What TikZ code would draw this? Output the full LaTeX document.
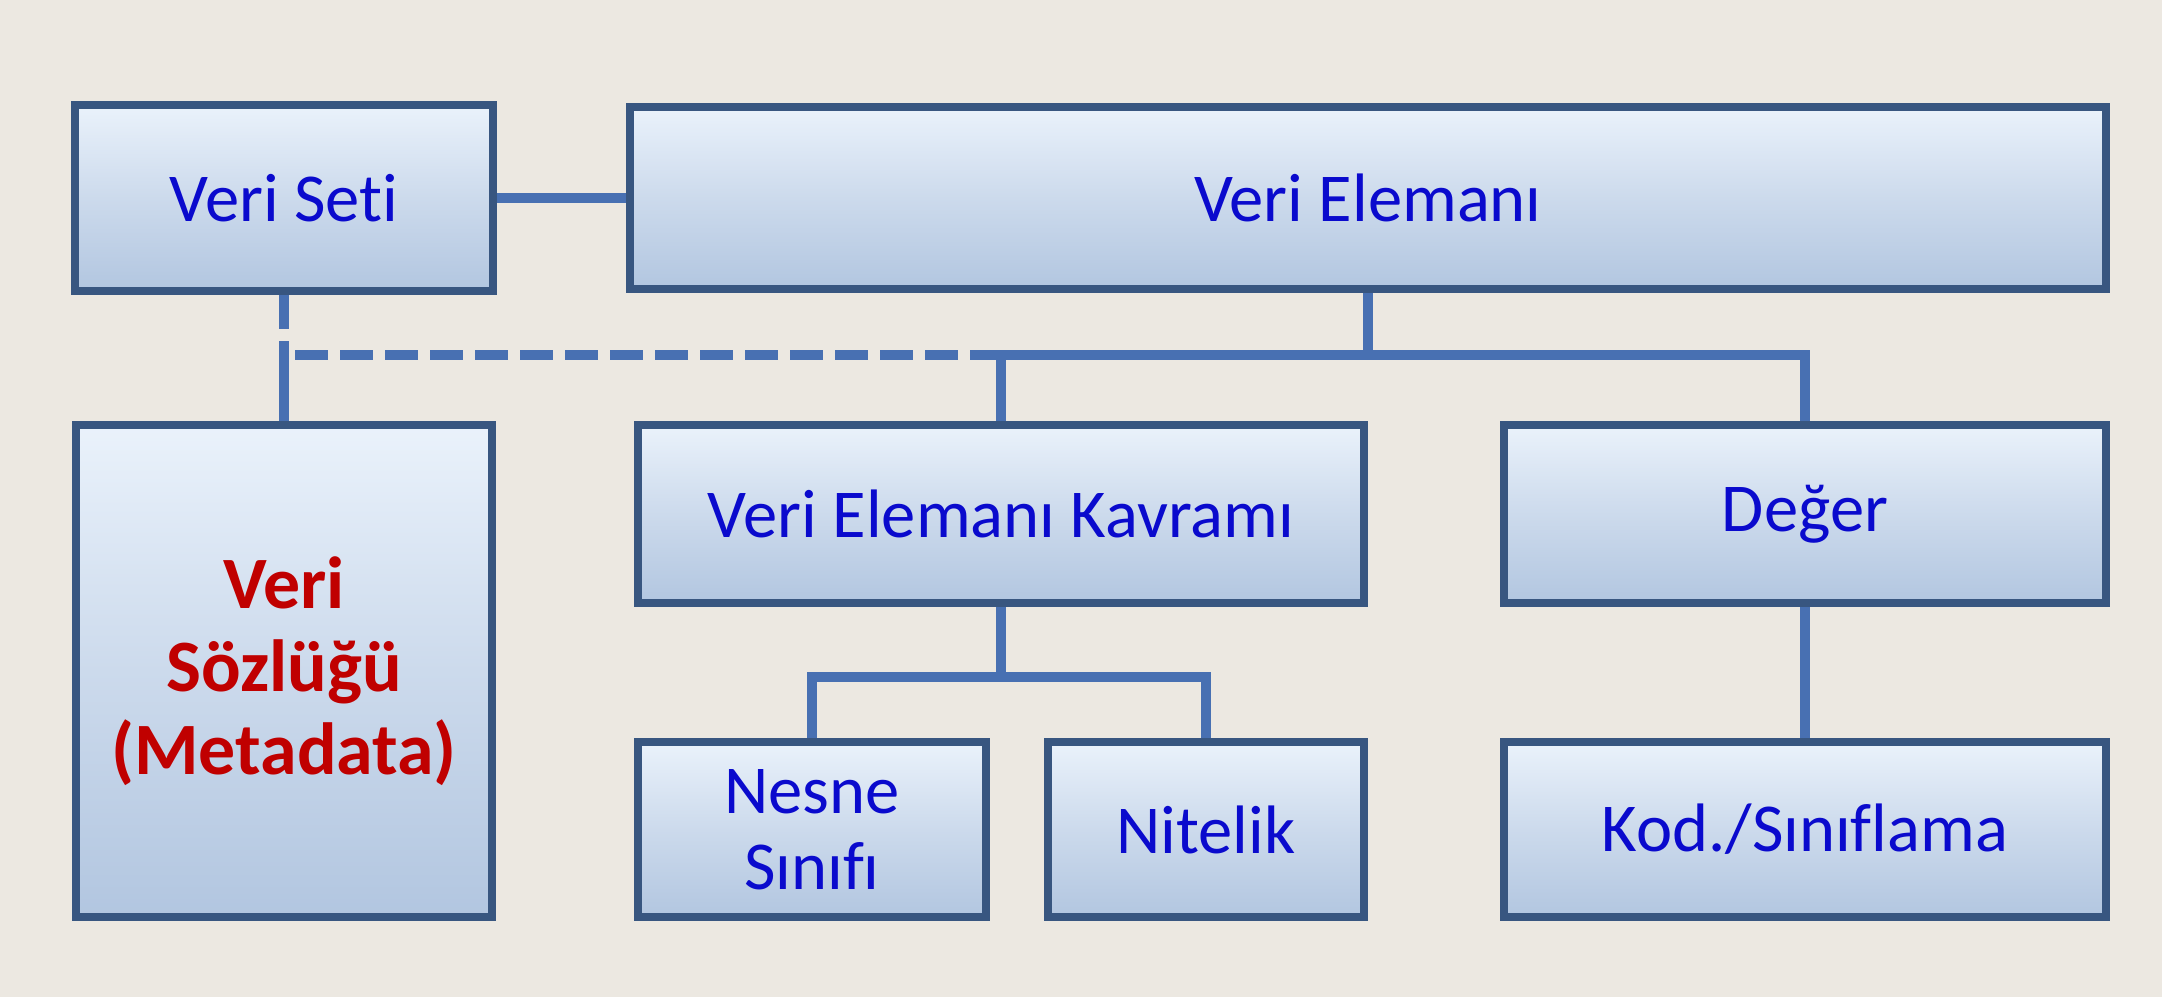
\documentclass[tikz,border=0pt]{standalone}
\usepackage{fontspec}
\setmainfont{Carlito}[RawFeature={-liga}]
\usetikzlibrary{backgrounds}
\definecolor{paper}{RGB}{236,232,225}
\definecolor{boxborder}{RGB}{56,86,128}
\definecolor{boxtop}{RGB}{234,242,251}
\definecolor{boxbot}{RGB}{178,198,224}
\definecolor{conncol}{RGB}{72,112,178}
\definecolor{txtblue}{RGB}{10,10,205}
\definecolor{txtred}{RGB}{192,0,0}
\tikzset{
  box/.style={draw=boxborder, line width=0.08cm, rectangle, inner sep=0pt,
    top color=boxtop, bottom color=boxbot, middle color={rgb,255:red,204;green,218;blue,236},
    text=txtblue, align=center, font=\fontsize{19.5}{21.5}\selectfont},
  conn/.style={draw=conncol, line width=0.1cm, line join=miter},
}
\begin{document}
\begin{tikzpicture}[x=0.01cm,y=-0.01cm]
\begin{scope}[on background layer]
  \fill[paper] (0,0) rectangle (2162,997);
\end{scope}
\useasboundingbox (0,0) rectangle (2162,997);

\node[box, minimum width=4.18cm, minimum height=1.86cm] (seti) at (284,198) {Veri Seti};
\node[box, minimum width=14.75cm, minimum height=1.82cm] (elem) at (1368,198) {Veri Elemanı};
\node[box, minimum width=4.16cm, minimum height=4.92cm, text=txtred,
      font=\fontsize{21}{23.6}\selectfont\bfseries] (sozluk) at (284,671) {Veri\\Sözlüğü\\(Metadata)};
\node[box, minimum width=7.26cm, minimum height=1.78cm] (kavram) at (1001,514) {Veri Elemanı Kavramı};
\node[box, minimum width=6.02cm, minimum height=1.78cm] (deger) at (1805,514) {Değer};
\node[box, minimum width=3.48cm, minimum height=1.75cm] (nesne) at (812,829.5) {Nesne\\Sınıfı};
\node[box, minimum width=3.16cm, minimum height=1.75cm] (nitelik) at (1206,829.5) {Nitelik};
\node[box, minimum width=6.02cm, minimum height=1.75cm] (kod) at (1805,829.5) {Kod./Sınıflama};

\coordinate (bus) at (0,355);
\coordinate (bus2) at (0,677);

\begin{scope}[on background layer]
  \draw[conn] (seti.east) -- (elem.west);
  \draw[conn] (elem.south) -- (elem.south |- bus);
  \draw[conn] (kavram.north) -- (kavram.north |- bus) -- (deger.north |- bus) -- (deger.north);
  \draw[conn, dash pattern=on 0.33cm off 0.12cm] ([xshift=0.11cm]seti.south |- bus) -- (kavram.north |- bus);
  \draw[conn, dash pattern=on 0.34cm off 0.12cm on 3cm off 0cm] (seti.south) -- (sozluk.north);
  \draw[conn] (kavram.south) -- (kavram.south |- bus2);
  \draw[conn] (nesne.north) -- (nesne.north |- bus2) -- (nitelik.north |- bus2) -- (nitelik.north);
  \draw[conn] (deger.south) -- (kod.north);
\end{scope}
\end{tikzpicture}
\end{document}
